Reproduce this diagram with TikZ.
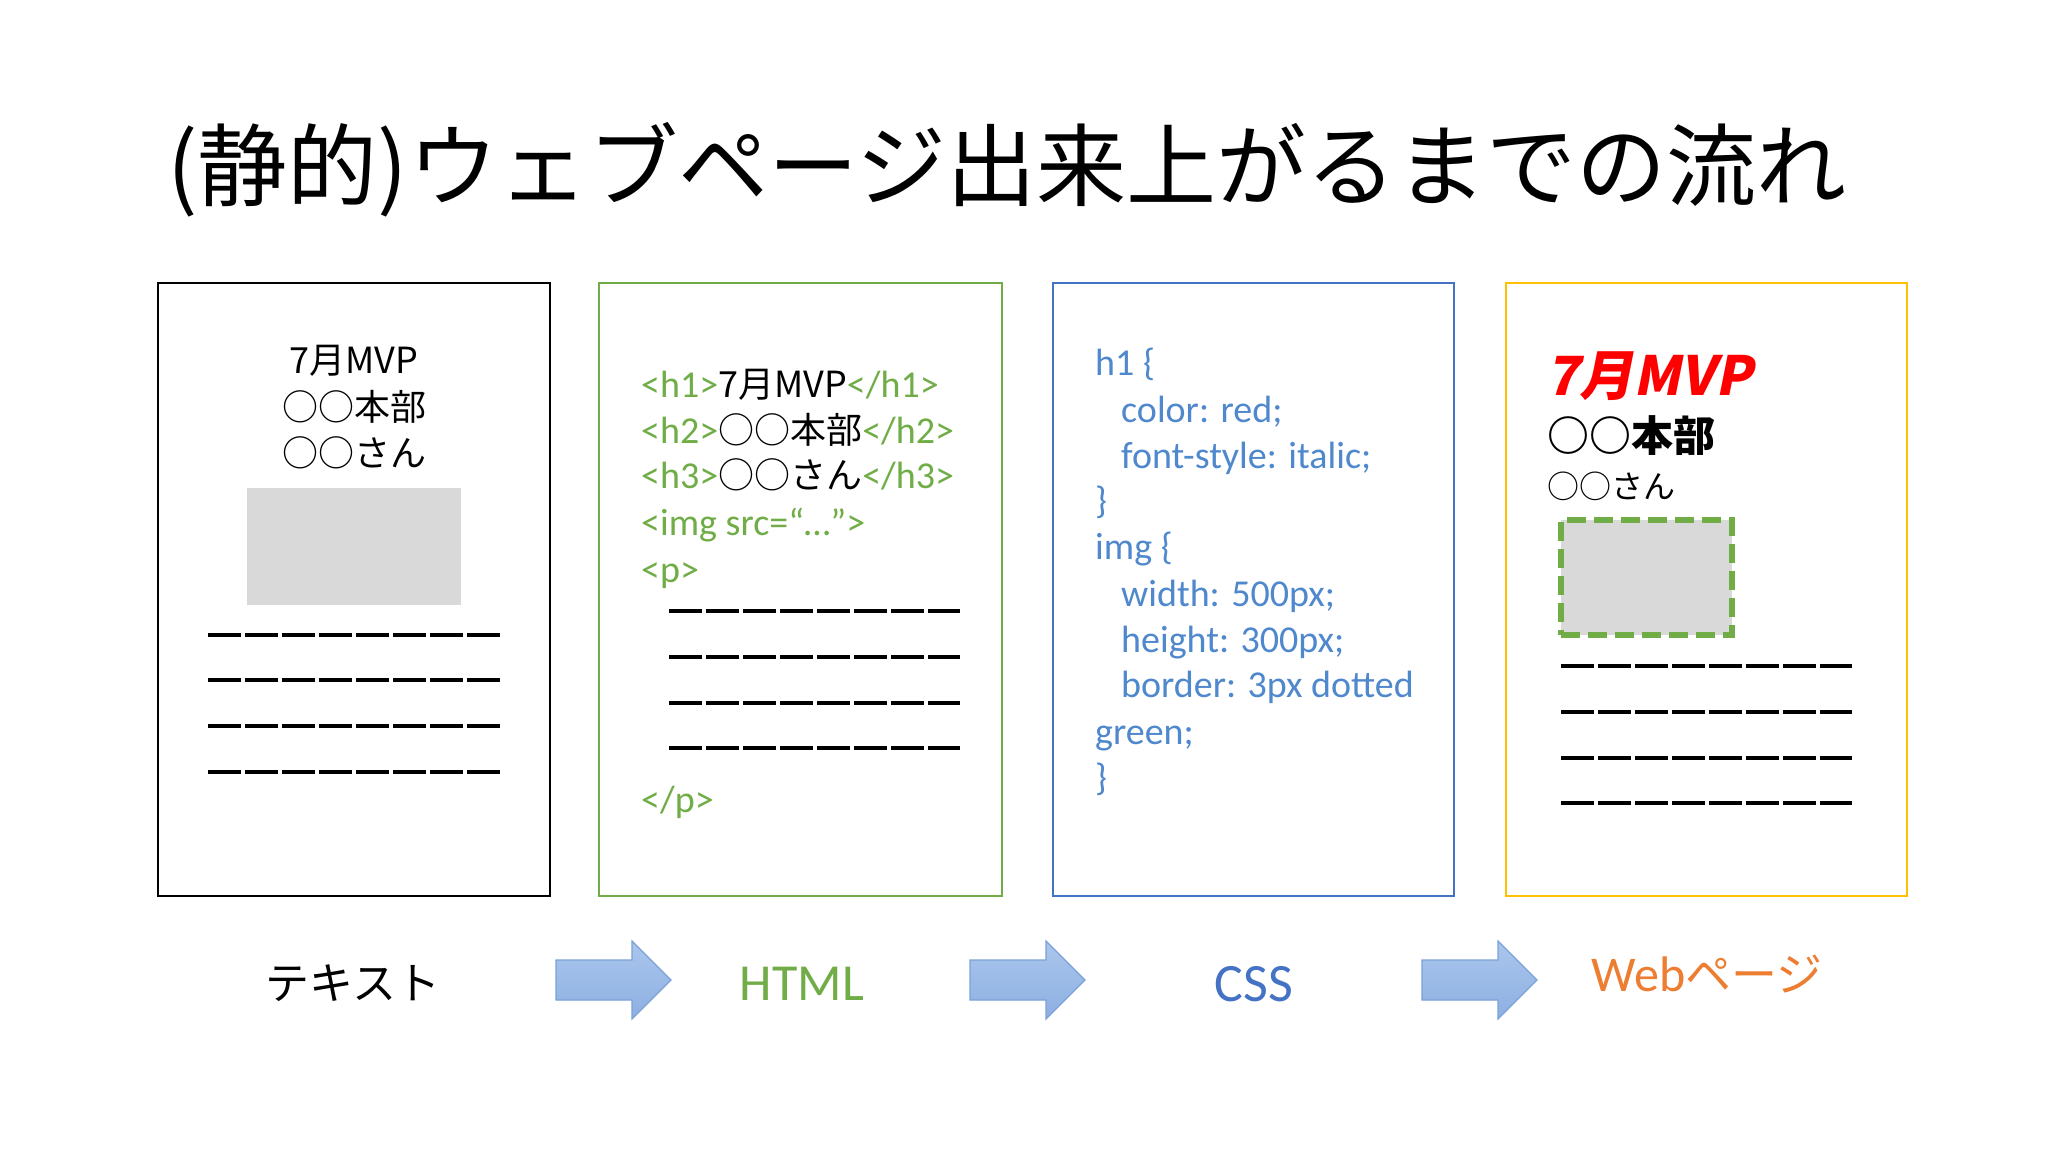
\documentclass[tikz,border=0pt]{standalone}
\usepackage{fontspec}
\setmainfont{Carlito}
\newfontfamily\jp{Noto Sans CJK JP}
\newfontfamily\jpsl[FakeSlant=0.2]{Noto Sans CJK JP}
\definecolor{offgreen}{HTML}{70AD47}
\definecolor{codeblue}{HTML}{4F88CC}
\definecolor{offblue}{HTML}{4472C4}
\definecolor{offgold}{HTML}{FFC000}
\definecolor{offorange}{HTML}{ED7D31}
\definecolor{imggray}{HTML}{D9D9D9}
\definecolor{arrtop}{HTML}{AAC6EC}
\definecolor{arrbot}{HTML}{8DAFE2}
\definecolor{arrline}{HTML}{7AA2D8}
\tikzset{
  panel/.style={draw, line width=2pt, minimum width=392pt, minimum height=613pt, inner sep=0pt},
  code/.style={anchor=base west, inner sep=0pt, font=\fontsize{38}{46}\selectfont},
  jtext/.style={anchor=base, inner sep=0pt, font=\jp\fontsize{36}{44}\selectfont},
  dashline/.style={line width=4pt, dash pattern=on 32.5pt off 4.5pt},
  barrow/.style={draw=arrline, line width=1.2pt, top color=arrtop, bottom color=arrbot},
  caption/.style={anchor=base, inner sep=0pt}
}
\begin{document}
\begin{tikzpicture}[x=1pt,y=-1pt]
\useasboundingbox[fill=white] (0,0) rectangle (2048,1152);

% title
\node[anchor=base, inner sep=0pt, font=\jp\fontsize{90}{100}\selectfont] (title) at (1007,199) {(静的)ウェブページ出来上がるまでの流れ};

% panels
\node[panel, draw=black] (box1) at (354,589.5) {};
\node[panel, draw=offgreen, minimum width=403pt] (box2) at (800.5,589.5) {};
\node[panel, draw=offblue, minimum width=401pt] (box3) at (1253.5,589.5) {};
\node[panel, draw=offgold, minimum width=401pt] (box4) at (1706.5,589.5) {};

% box1 : text
\node[jtext] (t1a) at (354,373) {7月MVP};
\node[jtext] (t1b) at (354,420) {○○本部};
\node[jtext] (t1c) at (354,466) {○○さん};
\node[fill=imggray, minimum width=214pt, minimum height=117pt, inner sep=0pt] (img1) at (354,546.5) {};
\foreach \y in {635,680,726,772} \draw[dashline] (208,\y) -- (500,\y);

% box2 : HTML
\node[code, text=offgreen] (h1) at (641,397) {<h1>{\color{black}\jp\fontsize{36}{44}\selectfont 7月MVP}</h1>};
\node[code, text=offgreen] (h2) at (641,443) {<h2>{\color{black}\jp\fontsize{36}{44}\selectfont ○○本部}</h2>};
\node[code, text=offgreen] (h3) at (641,488) {<h3>{\color{black}\jp\fontsize{36}{44}\selectfont ○○さん}</h3>};
\node[code, text=offgreen] (himg) at (641,535) {<img src=“…”>};
\node[code, text=offgreen] (hp) at (641,582) {<p>};
\foreach \y in {611,657,703,748} \draw[dashline] (669,\y) -- (960,\y);
\node[code, text=offgreen] (hpe) at (641,812) {</p>};

% box3 : CSS
\node[code, text=codeblue] (c1) at (1095,375) {h1 \{};
\node[code, text=codeblue] (c2) at (1121,422) {color: red;};
\node[code, text=codeblue] (c3) at (1121,468) {font-style: italic;};
\node[code, text=codeblue] (c4) at (1095,513) {\}};
\node[code, text=codeblue] (c5) at (1095,559) {img \{};
\node[code, text=codeblue] (c6) at (1121,606) {width: 500px;};
\node[code, text=codeblue] (c7) at (1121,652) {height: 300px;};
\node[code, text=codeblue] (c8) at (1121,697) {border: 3px dotted};
\node[code, text=codeblue] (c9) at (1095,744) {green;};
\node[code, text=codeblue] (c10) at (1095,790) {\}};

% box4 : web page
\node[anchor=base west, inner sep=0pt, text=red, font=\jpsl\bfseries\fontsize{54}{60}\selectfont] (w1) at (1546,395) {7月MVP};
\node[anchor=base west, inner sep=0pt, font=\jp\bfseries\fontsize{42}{50}\selectfont] (w2) at (1547,451) {○○本部};
\node[anchor=base west, inner sep=0pt, font=\jp\fontsize{32}{40}\selectfont] (w3) at (1547,498) {○○さん};
\node[fill=imggray, draw=offgreen, line width=5.5pt, dash pattern=on 19pt off 8pt, minimum width=171pt, minimum height=115pt, inner sep=0pt] (img4) at (1646.5,577.5) {};
\foreach \y in {666,712,758,803} \draw[dashline] (1561,\y) -- (1852,\y);

% captions
\node[caption, font=\jp\fontsize{44}{50}\selectfont] (l1) at (353,999) {テキスト};
\node[caption, text=offgreen, font=\fontsize{52}{60}\selectfont] (l2) at (802,1000) {HTML};
\node[caption, text=offblue, font=\fontsize{54}{60}\selectfont] (l3) at (1254,1001) {CSS};
\node[caption, text=offorange, font=\fontsize{50}{60}\selectfont] (l4) at (1707,991) {Web{\jp\fontsize{46}{56}\selectfont ページ}};

% block arrows
\foreach \x/\n in {556/a1, 970/a2, 1422/a3} {
  \draw[barrow] (\x,960) -- (\x+76,960) -- (\x+76,941) -- (\x+115,980) -- (\x+76,1019) -- (\x+76,1000) -- (\x,1000) -- cycle;
  \coordinate (\n) at (\x+57,980);
}
\end{tikzpicture}
\end{document}
